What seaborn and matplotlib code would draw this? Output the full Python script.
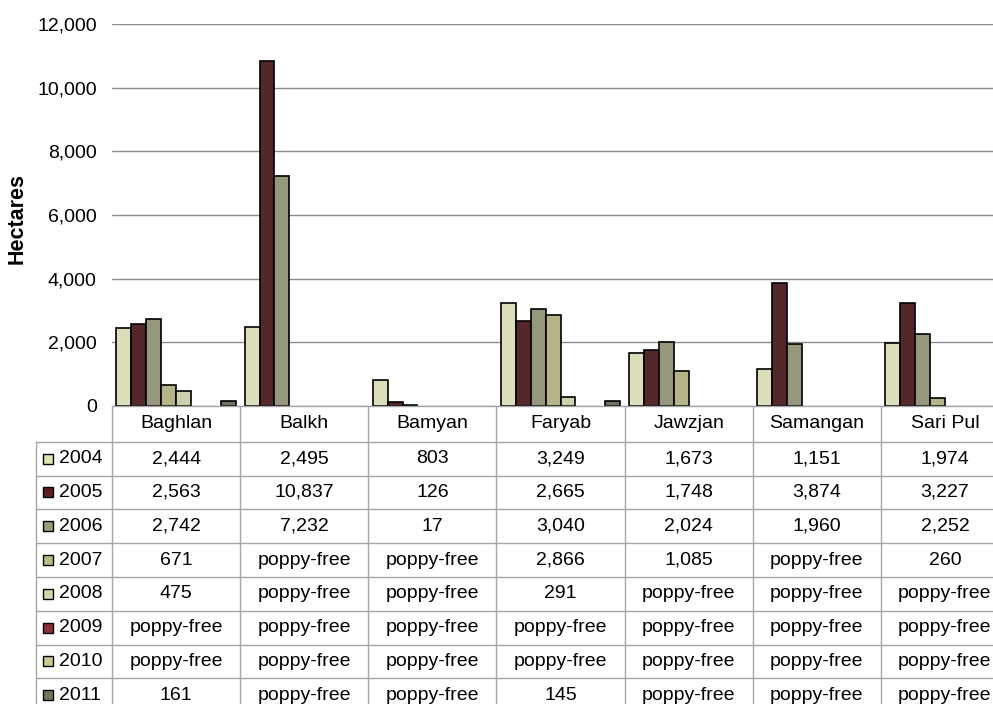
import numpy as np
import pandas as pd
import matplotlib
matplotlib.use("Agg")
import matplotlib.pyplot as plt
from matplotlib.patches import Rectangle
from matplotlib.ticker import FuncFormatter
import seaborn as sns

# Opium poppy cultivation in northern provinces (hectares); None = poppy-free
provinces = ["Baghlan", "Balkh", "Bamyan", "Faryab", "Jawzjan", "Samangan", "Sari Pul"]
years = ["2004", "2005", "2006", "2007", "2008", "2009", "2010", "2011"]

ha_2004 = [2444, 2495, 803, 3249, 1673, 1151, 1974]
ha_2005 = [2563, 10837, 126, 2665, 1748, 3874, 3227]
ha_2006 = [2742, 7232, 17, 3040, 2024, 1960, 2252]
ha_2007 = [671, None, None, 2866, 1085, None, 260]
ha_2008 = [475, None, None, 291, None, None, None]
ha_2009 = [None, None, None, None, None, None, None]
ha_2010 = [None, None, None, None, None, None, None]
ha_2011 = [161, None, None, 145, None, None, None]

series = [ha_2004, ha_2005, ha_2006, ha_2007, ha_2008, ha_2009, ha_2010, ha_2011]

colors = ["#E1E4B4", "#5B1F24", "#999C78", "#BDBB80",
          "#D3D5A8", "#8C2F38", "#CBCA92", "#70765A"]

rows = []
for yr, vals in zip(years, series):
    for prov, v in zip(provinces, vals):
        rows.append({"province": prov, "year": yr,
                     "hectares": np.nan if v is None else float(v)})
df = pd.DataFrame(rows)

sns.set_theme(style="white")
plt.rcParams["font.family"] = ["Liberation Sans", "DejaVu Sans"]

W, H = 993, 704
fig = plt.figure(figsize=(W / 100, H / 100), dpi=100)

# plot area in pixel coordinates
x0_px, x1_px = 112, 1009
y_top_px, y_base_px = 24, 406
ax = fig.add_axes([x0_px / W, 1 - y_base_px / H,
                   (x1_px - x0_px) / W, (y_base_px - y_top_px) / H])

sns.barplot(data=df.dropna(), x="province", y="hectares", hue="year",
            order=provinces, hue_order=years, palette=colors,
            width=0.93, edgecolor="black", linewidth=1.2,
            legend=False, ax=ax, zorder=3)

ax.set_xlim(-0.5, len(provinces) - 0.5)
ax.set_ylim(0, 12000)
ax.set_yticks(np.arange(0, 12001, 2000))
ax.yaxis.set_major_formatter(FuncFormatter(lambda v, p: f"{int(v):,}"))
ax.tick_params(axis="y", length=0, pad=11, labelsize=14, colors="black")
ax.set_xticks([])
ax.set_xlabel("")
ax.set_ylabel("Hectares", fontsize=15.5, fontweight="bold", color="black")
ax.yaxis.set_label_coords(-0.0945, 0.49)
ax.grid(axis="y", color="#8C8C8C", linewidth=1.0)
ax.set_axisbelow(True)
for s in ax.spines.values():
    s.set_visible(False)

# data table below the plot, sharing the category axis
row_tops = [406, 441.7] + [441.7 + 33.8 * (i + 1) for i in range(len(years))]
ax_t = fig.add_axes([x0_px / W, 1 - row_tops[-1] / H,
                     (x1_px - x0_px) / W, (row_tops[-1] - row_tops[0]) / H])
ax_t.set_xlim(-0.5, len(provinces) - 0.5)
ax_t.set_ylim(row_tops[-1], row_tops[0])
ax_t.axis("off")

unit_px = (x1_px - x0_px) / len(provinces)
to_x = lambda px: -0.5 + (px - x0_px) / unit_px
x_leg = to_x(36)
grid_kw = dict(color="#A6A6A6", linewidth=1.0, clip_on=False)

ax_t.plot([-0.5, len(provinces) - 0.5], [row_tops[0]] * 2, **grid_kw)
for yy in row_tops[1:]:
    ax_t.plot([x_leg, len(provinces) - 0.5], [yy, yy], **grid_kw)
ax_t.plot([x_leg, x_leg], [row_tops[1], row_tops[-1]], **grid_kw)
for k in range(len(provinces) + 1):
    xb = k - 0.5
    ax_t.plot([xb, xb], [row_tops[0], row_tops[-1]], **grid_kw)

fs = 14
for i, prov in enumerate(provinces):
    ax_t.text(i, (row_tops[0] + row_tops[1]) / 2, prov, ha="center",
              va="center", fontsize=fs, color="black")

for r, (yr, vals, col) in enumerate(zip(years, series, colors)):
    yc = (row_tops[r + 1] + row_tops[r + 2]) / 2
    sw = 10
    ax_t.add_patch(Rectangle((to_x(43), yc - sw / 2), sw / unit_px, sw,
                             facecolor=col, edgecolor="black",
                             linewidth=1.0, clip_on=False))
    ax_t.text(to_x(59), yc, yr, ha="left", va="center", fontsize=fs,
              color="black", clip_on=False)
    for i, v in enumerate(vals):
        label = "poppy-free" if v is None else f"{v:,}"
        ax_t.text(i, yc, label, ha="center", va="center", fontsize=fs,
                  color="black", clip_on=False)

fig.savefig("out.png", dpi=100)
